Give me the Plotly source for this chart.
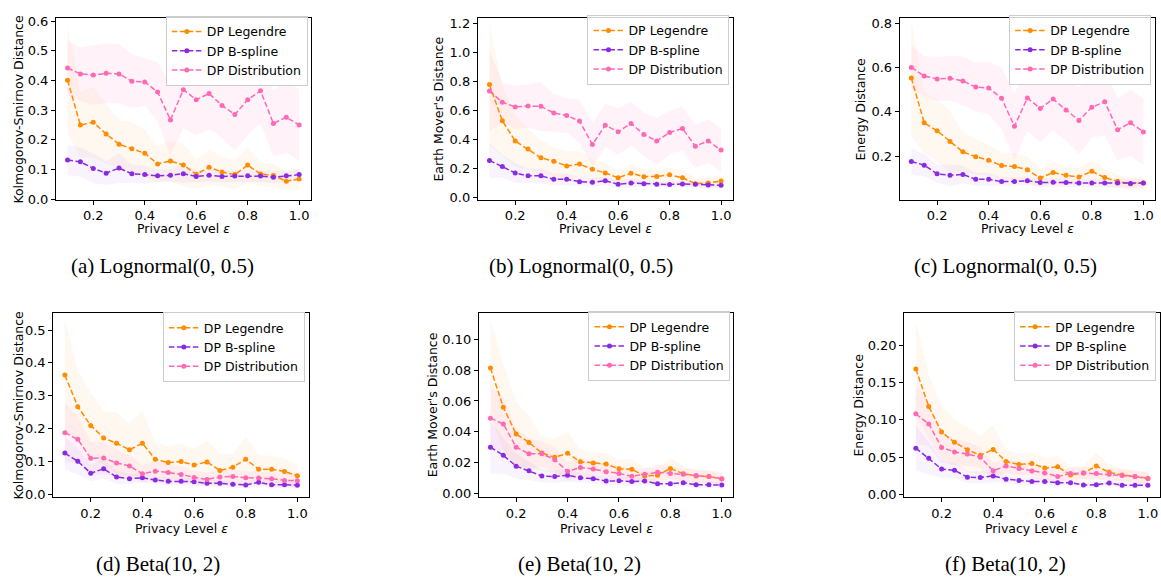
import plotly.graph_objects as go

# Privacy levels (epsilon) shared by every panel
eps = [0.10, 0.15, 0.20, 0.25, 0.30, 0.35, 0.40, 0.45, 0.50, 0.55,
       0.60, 0.65, 0.70, 0.75, 0.80, 0.85, 0.90, 0.95, 1.00]

# ---- (a) Lognormal(0, 0.5): Kolmogorov-Smirnov distance ----
a_leg = [0.401, 0.250, 0.259, 0.220, 0.185, 0.170, 0.155, 0.119, 0.129, 0.115,
         0.084, 0.108, 0.092, 0.083, 0.115, 0.085, 0.080, 0.061, 0.068]
a_leg_sd = [0.18, 0.11, 0.12, 0.10, 0.08, 0.09, 0.08, 0.06, 0.07, 0.07,
            0.05, 0.06, 0.05, 0.05, 0.06, 0.04, 0.04, 0.03, 0.035]
a_bsp = [0.132, 0.126, 0.104, 0.088, 0.105, 0.086, 0.083, 0.079, 0.081, 0.086,
         0.077, 0.081, 0.077, 0.078, 0.079, 0.078, 0.074, 0.079, 0.083]
a_bsp_sd = [0.05, 0.05, 0.05, 0.04, 0.05, 0.03, 0.03, 0.02, 0.02, 0.03,
            0.02, 0.02, 0.02, 0.02, 0.02, 0.02, 0.02, 0.02, 0.02]
a_dist = [0.442, 0.422, 0.418, 0.424, 0.422, 0.397, 0.395, 0.361, 0.267, 0.369,
          0.335, 0.356, 0.316, 0.285, 0.335, 0.365, 0.255, 0.276, 0.250]
a_dist_sd = [0.09, 0.09, 0.10, 0.10, 0.10, 0.09, 0.08, 0.10, 0.12, 0.13,
             0.12, 0.12, 0.11, 0.12, 0.12, 0.11, 0.11, 0.12, 0.12]

# ---- (b) Lognormal(0, 0.5): Earth Mover's distance ----
b_leg = [0.778, 0.529, 0.390, 0.334, 0.274, 0.251, 0.218, 0.231, 0.195, 0.170,
         0.137, 0.168, 0.144, 0.146, 0.157, 0.137, 0.096, 0.101, 0.114]
b_leg_sd = [0.42, 0.24, 0.18, 0.14, 0.12, 0.10, 0.10, 0.09, 0.07, 0.07,
            0.05, 0.06, 0.05, 0.05, 0.05, 0.05, 0.04, 0.04, 0.04]
b_bsp = [0.256, 0.215, 0.170, 0.150, 0.150, 0.126, 0.126, 0.110, 0.105, 0.117,
         0.092, 0.101, 0.096, 0.092, 0.090, 0.094, 0.092, 0.087, 0.085]
b_bsp_sd = [0.12, 0.08, 0.07, 0.05, 0.05, 0.04, 0.04, 0.03, 0.03, 0.03,
            0.03, 0.03, 0.02, 0.02, 0.02, 0.02, 0.02, 0.02, 0.02]
b_dist = [0.733, 0.657, 0.624, 0.630, 0.628, 0.583, 0.565, 0.527, 0.366, 0.498,
          0.453, 0.511, 0.435, 0.390, 0.449, 0.476, 0.354, 0.390, 0.327]
b_dist_sd = [0.28, 0.13, 0.15, 0.15, 0.17, 0.13, 0.12, 0.15, 0.15, 0.15,
             0.16, 0.15, 0.15, 0.16, 0.15, 0.15, 0.15, 0.15, 0.15]

# ---- (c) Lognormal(0, 0.5): Energy distance ----
c_leg = [0.552, 0.350, 0.314, 0.266, 0.219, 0.197, 0.181, 0.157, 0.153, 0.138,
         0.101, 0.126, 0.113, 0.106, 0.131, 0.103, 0.086, 0.075, 0.079]
c_leg_sd = [0.26, 0.14, 0.14, 0.14, 0.09, 0.08, 0.07, 0.06, 0.06, 0.06,
            0.04, 0.05, 0.04, 0.04, 0.05, 0.04, 0.03, 0.03, 0.03]
c_bsp = [0.176, 0.159, 0.120, 0.113, 0.117, 0.095, 0.095, 0.085, 0.085, 0.089,
         0.081, 0.082, 0.081, 0.078, 0.078, 0.079, 0.078, 0.076, 0.078]
c_bsp_sd = [0.06, 0.05, 0.04, 0.05, 0.04, 0.03, 0.03, 0.02, 0.02, 0.02,
            0.02, 0.02, 0.02, 0.02, 0.02, 0.02, 0.02, 0.02, 0.02]
c_dist = [0.600, 0.561, 0.548, 0.551, 0.539, 0.511, 0.507, 0.461, 0.334, 0.462,
          0.415, 0.457, 0.408, 0.361, 0.420, 0.445, 0.319, 0.350, 0.309]
c_dist_sd = [0.10, 0.09, 0.10, 0.10, 0.11, 0.11, 0.12, 0.14, 0.15, 0.15,
             0.15, 0.14, 0.14, 0.15, 0.14, 0.15, 0.14, 0.15, 0.15]

# ---- (d) Beta(10, 2): Kolmogorov-Smirnov distance ----
d_leg = [0.363, 0.267, 0.210, 0.172, 0.156, 0.136, 0.156, 0.107, 0.097, 0.100,
         0.090, 0.099, 0.073, 0.083, 0.107, 0.077, 0.077, 0.070, 0.057]
d_leg_sd = [0.17, 0.11, 0.10, 0.08, 0.095, 0.08, 0.10, 0.05, 0.05, 0.055,
            0.05, 0.065, 0.05, 0.04, 0.07, 0.045, 0.04, 0.04, 0.033]
d_bsp = [0.126, 0.101, 0.065, 0.078, 0.053, 0.048, 0.051, 0.044, 0.040, 0.040,
         0.039, 0.034, 0.034, 0.031, 0.029, 0.037, 0.030, 0.030, 0.028]
d_bsp_sd = [0.05, 0.04, 0.025, 0.03, 0.02, 0.015, 0.015, 0.012, 0.012, 0.012,
            0.012, 0.01, 0.01, 0.01, 0.01, 0.012, 0.01, 0.01, 0.01]
d_dist = [0.188, 0.168, 0.110, 0.111, 0.096, 0.087, 0.063, 0.071, 0.067, 0.061,
          0.052, 0.046, 0.053, 0.055, 0.051, 0.050, 0.048, 0.043, 0.042]
d_dist_sd = [0.09, 0.07, 0.05, 0.05, 0.04, 0.035, 0.025, 0.03, 0.025, 0.025,
             0.02, 0.02, 0.02, 0.02, 0.02, 0.02, 0.02, 0.02, 0.02]

# ---- (e) Beta(10, 2): Earth Mover's distance ----
e_leg = [0.0814, 0.0559, 0.0386, 0.0331, 0.0263, 0.0235, 0.0261, 0.0206, 0.0199, 0.0191,
         0.0161, 0.0157, 0.0114, 0.0119, 0.0163, 0.0129, 0.0114, 0.0110, 0.0097]
e_leg_sd = [0.031, 0.028, 0.021, 0.017, 0.011, 0.012, 0.014, 0.008, 0.007, 0.007,
            0.006, 0.007, 0.005, 0.005, 0.007, 0.005, 0.004, 0.004, 0.004]
e_bsp = [0.0301, 0.0248, 0.0178, 0.0148, 0.0114, 0.0110, 0.0119, 0.0102, 0.0097, 0.0081,
         0.0083, 0.0078, 0.0081, 0.0064, 0.0064, 0.0070, 0.0057, 0.0057, 0.0055]
e_bsp_sd = [0.017, 0.012, 0.008, 0.006, 0.004, 0.004, 0.004, 0.003, 0.003, 0.003,
            0.003, 0.003, 0.002, 0.002, 0.002, 0.002, 0.002, 0.002, 0.002]
e_dist = [0.0489, 0.0451, 0.0301, 0.0258, 0.0258, 0.0220, 0.0144, 0.0169, 0.0159, 0.0142,
          0.0131, 0.0112, 0.0125, 0.0138, 0.0131, 0.0125, 0.0117, 0.0110, 0.0095]
e_dist_sd = [0.021, 0.017, 0.012, 0.010, 0.008, 0.008, 0.006, 0.006, 0.005, 0.005,
             0.005, 0.004, 0.004, 0.005, 0.004, 0.004, 0.004, 0.004, 0.004]

# ---- (f) Beta(10, 2): Energy distance ----
f_leg = [0.168, 0.118, 0.0836, 0.0700, 0.0600, 0.0525, 0.0604, 0.0442, 0.0403, 0.0416,
         0.0354, 0.0372, 0.0263, 0.0289, 0.0381, 0.0298, 0.0263, 0.0241, 0.0219]
f_leg_sd = [0.064, 0.042, 0.036, 0.030, 0.030, 0.026, 0.033, 0.016, 0.015, 0.015,
            0.014, 0.015, 0.010, 0.010, 0.018, 0.010, 0.009, 0.009, 0.008]
f_bsp = [0.0621, 0.0486, 0.0341, 0.0324, 0.0232, 0.0228, 0.0249, 0.0206, 0.0188, 0.0175,
         0.0175, 0.0158, 0.0158, 0.0127, 0.0131, 0.0153, 0.0123, 0.0123, 0.0123]
f_bsp_sd = [0.030, 0.022, 0.012, 0.010, 0.008, 0.008, 0.008, 0.006, 0.006, 0.005,
            0.005, 0.005, 0.004, 0.004, 0.004, 0.004, 0.004, 0.004, 0.004]
f_dist = [0.108, 0.0945, 0.0630, 0.0569, 0.0543, 0.0499, 0.0319, 0.0381, 0.0350, 0.0315,
          0.0289, 0.0241, 0.0280, 0.0289, 0.0280, 0.0271, 0.0254, 0.0241, 0.0210]
f_dist_sd = [0.040, 0.030, 0.020, 0.018, 0.016, 0.014, 0.010, 0.010, 0.009, 0.009,
             0.009, 0.008, 0.008, 0.008, 0.008, 0.008, 0.008, 0.008, 0.008]

series_names = ["DP Legendre", "DP B-spline", "DP Distribution"]
line_colors = ["#ff8c00", "#8a2be2", "#ff69b4"]
band_colors = ["rgba(255,140,0,0.06)", "rgba(138,43,226,0.06)", "rgba(255,105,180,0.08)"]

y_titles = ["Kolmogorov-Smirnov Distance", "Earth Mover's Distance", "Energy Distance"]
captions = ["(a) Lognormal(0, 0.5)", "(b) Lognormal(0, 0.5)", "(c) Lognormal(0, 0.5)",
            "(d) Beta(10, 2)", "(e) Beta(10, 2)", "(f) Beta(10, 2)"]

panels = [
    (a_leg, a_leg_sd, a_bsp, a_bsp_sd, a_dist, a_dist_sd),
    (b_leg, b_leg_sd, b_bsp, b_bsp_sd, b_dist, b_dist_sd),
    (c_leg, c_leg_sd, c_bsp, c_bsp_sd, c_dist, c_dist_sd),
    (d_leg, d_leg_sd, d_bsp, d_bsp_sd, d_dist, d_dist_sd),
    (e_leg, e_leg_sd, e_bsp, e_bsp_sd, e_dist, e_dist_sd),
    (f_leg, f_leg_sd, f_bsp, f_bsp_sd, f_dist, f_dist_sd),
]

# Layout geometry (pixels on a 1161 x 581 canvas)
W, H = 1161, 581
x_px = [(56, 311), (478.3, 733.3), (900.5, 1156),
        (53.3, 309.3), (479.3, 734), (905, 1160.5)]
y_px = [(14, 199.3)] * 3 + [(315, 502.5)] * 3
y_ranges = [[-0.0008, 0.611], [-0.013, 1.238], [0.004, 0.824],
            [-0.0075, 0.5516], [-0.0022, 0.117], [-0.0033, 0.243]]
y_dtick = [0.1, 0.2, 0.2, 0.1, 0.02, 0.05]
y_fmt = [".1f", ".1f", ".1f", ".1f", ".2f", ".2f"]
y_title_x = [19, 439.3, 861.7, 18.5, 432.7, 858.3]
legend_pos = [(166, 12), (588, 11), (1010, 11), (163, 314), (589, 313), (1015, 313)]
caption_x = [163, 582, 1006, 158, 580, 1006]
x_title_gap = [30, 30, 30, 32, 32, 32]

FONT = "DejaVu Sans"

fig = go.Figure()
layout = dict(
    width=W, height=H, autosize=False,
    margin=dict(l=0, r=0, t=0, b=0),
    paper_bgcolor="white", plot_bgcolor="white",
    font=dict(family=FONT, size=13, color="black"),
    annotations=[],
)

for i, data in enumerate(panels):
    ax = "" if i == 0 else str(i + 1)
    xref, yref = "x" + ax, "y" + ax
    leg_id = "legend" + ax
    means = [data[0], data[2], data[4]]
    sds = [data[1], data[3], data[5]]

    # shaded bands (mean +/- one standard deviation)
    for k in range(3):
        upper = [m + s for m, s in zip(means[k], sds[k])]
        lower = [m - s for m, s in zip(means[k], sds[k])]
        fig.add_trace(go.Scatter(
            x=eps + eps[::-1], y=upper + lower[::-1],
            fill="toself", fillcolor=band_colors[k], line=dict(width=0),
            mode="lines", hoverinfo="skip", showlegend=False,
            xaxis=xref, yaxis=yref,
        ))
    # mean curves
    for k in range(3):
        fig.add_trace(go.Scatter(
            x=eps, y=means[k], name=series_names[k], mode="lines+markers",
            line=dict(color=line_colors[k], width=1.5, dash="5.5px,2.5px"),
            marker=dict(color=line_colors[k], size=5),
            xaxis=xref, yaxis=yref, legend=leg_id,
        ))

    x0, x1 = x_px[i]
    yt, yb = y_px[i]
    common = dict(
        showline=True, linecolor="black", linewidth=1, mirror=True,
        ticks="outside", ticklen=4, tickwidth=1, tickcolor="black",
        showgrid=False, zeroline=False,
        tickfont=dict(family=FONT, size=13, color="black"),
    )
    layout["xaxis" + ax] = dict(
        domain=[x0 / W, x1 / W], range=[0.055, 1.045],
        tickmode="array", tickvals=[0.2, 0.4, 0.6, 0.8, 1.0],
        ticktext=["0.2", "0.4", "0.6", "0.8", "1.0"],
        anchor=yref, **common,
    )
    layout["yaxis" + ax] = dict(
        domain=[1 - yb / H, 1 - yt / H], range=y_ranges[i],
        tick0=0, dtick=y_dtick[i], tickformat=y_fmt[i],
        anchor=xref, **common,
    )
    lx, ly = legend_pos[i]
    layout[leg_id] = dict(
        x=lx / W, y=1 - ly / H, xanchor="left", yanchor="top",
        bgcolor="rgba(255,255,255,0.8)", bordercolor="#cccccc", borderwidth=1,
        font=dict(family=FONT, size=12.5, color="black"),
        tracegroupgap=0, itemwidth=30,
    )

    # axis titles and panel caption
    layout["annotations"].append(dict(
        text="Privacy Level <i>ε</i>", x=(x0 + x1) / 2 / W,
        y=1 - (yb + x_title_gap[i]) / H, xref="paper", yref="paper",
        showarrow=False, xanchor="center", yanchor="middle",
        font=dict(family=FONT, size=12.5, color="black"),
    ))
    layout["annotations"].append(dict(
        text=y_titles[i % 3], x=y_title_x[i] / W, y=1 - (yt + yb) / 2 / H,
        xref="paper", yref="paper", textangle=-90, showarrow=False,
        xanchor="center", yanchor="middle",
        font=dict(family=FONT, size=12.5, color="black"),
    ))
    layout["annotations"].append(dict(
        text=captions[i], x=caption_x[i] / W, y=1 - (yb + 68) / H,
        xref="paper", yref="paper", showarrow=False,
        xanchor="center", yanchor="middle",
        font=dict(family="Liberation Serif", size=21, color="black"),
    ))

fig.update_layout(**layout)
fig.write_html("out.html")
